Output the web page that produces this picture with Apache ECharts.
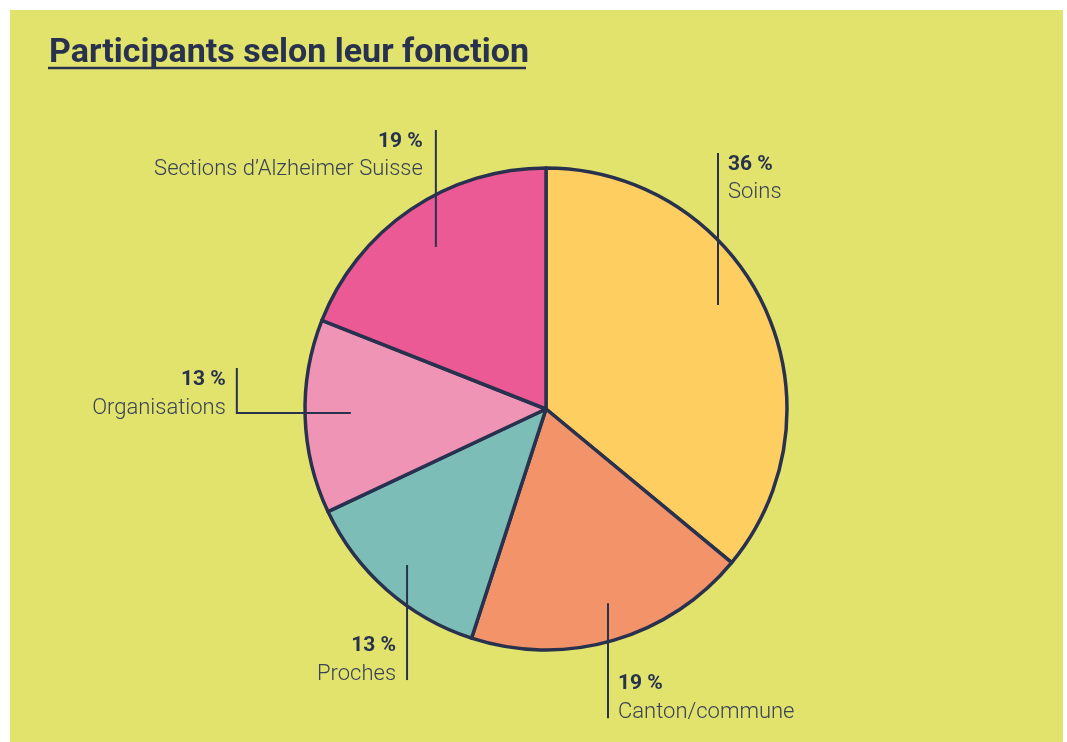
<!DOCTYPE html>
<html>
<head>
<meta charset="utf-8">
<script src="https://cdn.jsdelivr.net/npm/echarts@6/dist/echarts.min.js"></script>
<style>
  html, body { margin: 0; padding: 0; background: #ffffff; }
  #chart { width: 1067px; height: 742px; }
</style>
</head>
<body>
<div id="chart"></div>
<script>
// data
var categories = ['Soins', 'Canton/commune', 'Proches', 'Organisations', 'Sections d\u2019Alzheimer Suisse']
var values = [36, 19, 13, 13, 19]

var colors = ['#fecf60', '#f2936a', '#7cbdb8', '#f094b5', '#ec5a96']
var navy = '#28324e'

// pie geometry
var cx = 546
var cy = 409
var R = 241

// where each leader line starts (fraction through the slice, fraction of radius)
// and how it runs from there
var guides = [
  { f: 0.454, r: 0.834, path: [[0, -152]], side: 'right', gap: 10 },
  { f: 0.478, r: 0.846, path: [[0, 115]], side: 'right', gap: 10 },
  { f: 0.506, r: 0.867, path: [[0, 115]], side: 'left', gap: 11 },
  { f: 0.513, r: 0.81, path: [[-114, 0], [0, -45]], side: 'left', gap: 11 },
  { f: 0.5, r: 0.813, path: [[0, -117]], side: 'left', gap: 13 }
]

var total = values.reduce(function (a, b) { return a + b }, 0)

function sliceAngle (i, f) {
  var before = 0
  for (var j = 0; j < i; j++) before += values[j]
  return (before + values[i] * f) / total * Math.PI * 2
}

var pieData = categories.map(function (name, i) {
  return { name: name, value: values[i], itemStyle: { color: colors[i] } }
})

var chart = echarts.init(document.getElementById('chart'))

// the slices themselves
var slices = {
  type: 'pie',
  z: 2,
  center: [cx, cy],
  radius: R,
  startAngle: 90,
  clockwise: true,
  silent: true,
  emphasis: { disabled: true },
  itemStyle: { borderColor: navy, borderWidth: 3.5 },
  label: { show: false },
  labelLine: { show: false },
  data: pieData
}

// same pie again, invisible, only for labels so the leader lines sit on top
var labels = {
  type: 'pie',
  z: 3,
  center: [cx, cy],
  radius: R,
  startAngle: 90,
  clockwise: true,
  silent: true,
  avoidLabelOverlap: false,
  emphasis: { disabled: true },
  itemStyle: { color: 'rgba(0,0,0,0)', borderWidth: 0 },
  label: {
    show: true,
    position: 'outside',
    formatter: '{p|{c} %}\n{n|{b}}',
    rich: {
      p: {
        fontFamily: 'Roboto, sans-serif',
        fontWeight: 'bold',
        fontSize: 21,
        lineHeight: 28,
        color: navy
      },
      n: {
        fontFamily: 'Roboto, sans-serif',
        fontWeight: 300,
        fontSize: 22,
        lineHeight: 28,
        color: '#3a4158'
      }
    }
  },
  labelLine: {
    show: true,
    lineStyle: { color: navy, width: 2 }
  },
  labelLayout: function (p) {
    var i = p.dataIndex
    var g = guides[i]
    var a = sliceAngle(i, g.f)
    var x = cx + g.r * R * Math.sin(a)
    var y = cy - g.r * R * Math.cos(a)
    var pts = [[x, y]]
    g.path.forEach(function (d) {
      x += d[0]
      y += d[1]
      pts.push([x, y])
    })
    if (pts.length < 3) {
      pts.splice(1, 0, [(pts[0][0] + pts[1][0]) / 2, (pts[0][1] + pts[1][1]) / 2])
    }
    var up = g.path[g.path.length - 1][1] < 0
    return {
      x: g.side === 'right' ? x + g.gap : x - g.gap,
      y: up ? y - 2 : y + 8,
      align: g.side === 'right' ? 'left' : 'right',
      verticalAlign: up ? 'top' : 'bottom',
      labelLinePoints: pts
    }
  },
  data: categories.map(function (name, i) {
    return { name: name, value: values[i] }
  })
}

chart.setOption({
  animation: false,
  backgroundColor: '#ffffff',
  title: {
    text: 'Participants selon leur fonction',
    left: 44,
    top: 31,
    textStyle: {
      fontFamily: 'Roboto, sans-serif',
      fontWeight: 'bold',
      fontSize: 34,
      color: navy
    }
  },
  graphic: [
    {
      type: 'rect',
      z: -100,
      shape: { x: 10, y: 10, width: 1053, height: 732 },
      style: { fill: '#e1e36c' }
    },
    {
      type: 'line',
      shape: { x1: 48, y1: 68, x2: 526, y2: 68 },
      style: { stroke: navy, lineWidth: 2.5 }
    }
  ],
  series: [slices, labels]
})
</script>
</body>
</html>
